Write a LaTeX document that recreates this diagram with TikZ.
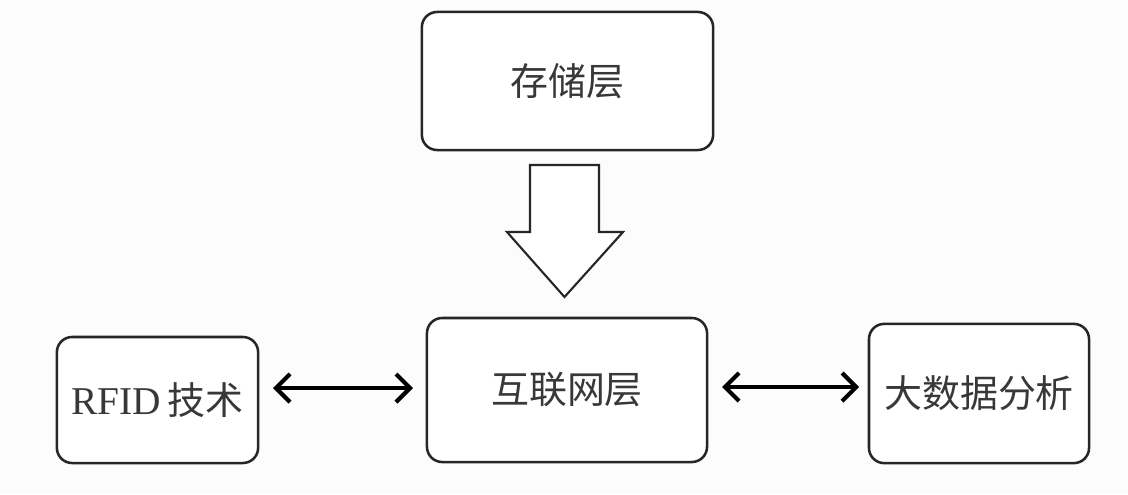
\documentclass[tikz,border=0pt]{standalone}
\usepackage{fontspec}
\newfontfamily\cjk{Noto Sans CJK SC}
\newfontfamily\latin{Liberation Serif}
\usetikzlibrary{arrows.meta}

\begin{document}
\begin{tikzpicture}[
  x=0.025cm, y=-0.025cm,
  every node/.style={inner sep=0pt},
  layer/.style={draw=black!85, line width=1.8pt, rounded corners=0.38cm,
    fill=white, text=black!78, font=\cjk\fontsize{27}{30}\selectfont},
  link/.style={draw=black, line width=2.9pt,
    {Straight Barb[length=10pt,width=20pt,line width=2.9pt]}-{Straight Barb[length=10pt,width=20pt,line width=2.9pt]}},
  flow/.style={draw=black!85, line width=1.5pt, fill=white, line join=miter}]

  % page
  \fill[black!1] (0,0) rectangle (1128,494);
  \useasboundingbox (0,0) rectangle (1128,494);

  % boxes
  \node[layer, minimum width=7.28cm, minimum height=3.45cm] (store) at (567.5, 81) {存储层};
  \node[layer, minimum width=7.00cm, minimum height=3.60cm] (net)   at (567, 390) {互联网层};
  \node[layer, minimum width=5.03cm, minimum height=3.15cm] (rfid)  at (157.5, 400)
    {{\latin\fontsize{28}{30}\selectfont RFID}\,技术};
  \node[layer, minimum width=5.50cm, minimum height=3.48cm] (data)  at (979, 393.5) {大数据分析};

  % hollow arrow from storage to network
  \draw[flow] (530,165) -- (599,165) -- (599,232) -- (623,232) -- (564.5,297)
    -- (507,232) -- (530,232) -- cycle;

  % two-way links
  \coordinate (l1) at (273,388);
  \coordinate (l2) at (413,388);
  \coordinate (r1) at (722,387);
  \coordinate (r2) at (859,387);
  \draw[link] (l1) -- (l2);
  \draw[link] (r1) -- (r2);
\end{tikzpicture}
\end{document}
